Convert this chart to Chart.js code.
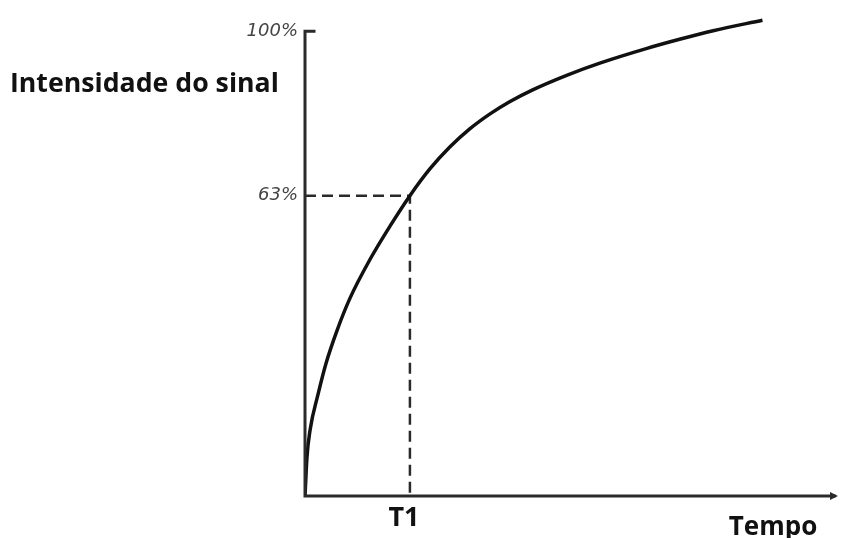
<!DOCTYPE html>
<html>
<head>
<meta charset="utf-8">
<script src="https://cdn.jsdelivr.net/npm/chart.js@4/dist/chart.umd.min.js"></script>
<style>
  body { margin: 0; background: #fff; }
  #wrap { width: 842px; height: 538px; }
</style>
</head>
<body>
<div id="wrap"><canvas id="curve-chart" width="842" height="538"></canvas></div>
<script>
// data (time in units of T1, signal in %)
const tempo = [0, 0.019, 0.048, 0.124, 0.20, 0.305, 0.429, 0.619, 0.81, 1.0, 1.19, 1.38, 1.57, 1.76, 1.95, 2.17, 2.50, 2.81, 3.26, 3.57, 3.89, 4.36];
const sinal = [0, 8.2, 13.8, 21.3, 27.8, 34.7, 41.5, 49.6, 56.6, 63.0, 68.6, 73.2, 77.0, 80.1, 82.7, 85.2, 88.3, 90.8, 93.9, 95.8, 97.6, 99.8];

const t1 = 1;
const nivelT1 = 63;

const xTickValues = [1];
const xTickLabels = ['T1'];
const yTickValues = [63, 97.5];
const yTickLabels = ['63%', '100%'];

const yTitle = 'Intensidade do sinal';
const xTitle = 'Tempo';

const xMax = 5.08;
const yMax = 100.3;

// axes drawn by hand: y axis stops at the 100% tick, x axis ends in an arrow
const axesPlugin = {
    id: 'axesPlugin',
    afterDatasetsDraw(chart) {
        const c = chart.ctx;
        const xs = chart.scales.x;
        const ys = chart.scales.y;
        const x0 = xs.getPixelForValue(0);
        const y0 = ys.getPixelForValue(0);
        const yTop = ys.getPixelForValue(yTickValues[yTickValues.length - 1]);
        const xEnd = chart.chartArea.right;

        c.save();
        c.strokeStyle = '#2a2a2a';
        c.lineWidth = 3;
        c.lineCap = 'square';
        c.beginPath();
        c.moveTo(x0 + 9, yTop);
        c.lineTo(x0, yTop);
        c.lineTo(x0, y0);
        c.lineTo(xEnd - 4, y0);
        c.stroke();

        c.fillStyle = '#2a2a2a';
        c.beginPath();
        c.moveTo(xEnd, y0);
        c.lineTo(xEnd - 8, y0 - 4);
        c.lineTo(xEnd - 8, y0 + 4);
        c.closePath();
        c.fill();

        c.fillStyle = '#111';
        c.font = 'bold 26.7px "Open Sans"';
        c.textBaseline = 'alphabetic';
        c.textAlign = 'left';
        c.fillText(yTitle, 10, 92);

        c.font = 'bold 26px "Open Sans"';
        c.textAlign = 'center';
        c.fillText(xTitle, 773, 535);
        c.restore();
    }
};

const ctx = document.getElementById('curve-chart');

const config = {
    type: 'line',
    data: {
        datasets: [{
            label: 'sinal',
            data: tempo.map((t, i) => ({ x: t, y: sinal[i] })),
            borderColor: '#111',
            borderWidth: 3.5,
            pointRadius: 0,
            cubicInterpolationMode: 'monotone',
            fill: false
        }, {
            label: 'T1',
            data: [{ x: 0, y: nivelT1 }, { x: t1, y: nivelT1 }, { x: t1, y: 0 }],
            borderColor: '#2a2a2a',
            borderWidth: 2.5,
            borderDash: [11, 6],
            pointRadius: 0,
            tension: 0,
            fill: false
        }]
    },
    options: {
        responsive: false,
        devicePixelRatio: 1,
        animation: false,
        layout: { padding: { left: 0, top: 3, right: 4, bottom: 0 } },
        plugins: {
            legend: { display: false },
            tooltip: { enabled: false }
        },
        scales: {
            x: {
                type: 'linear',
                min: 0,
                max: xMax,
                grid: { display: false, drawTicks: false },
                border: { display: false },
                afterBuildTicks: (s) => { s.ticks = xTickValues.map(v => ({ value: v })); },
                afterFit: (s) => { s.height = 42; },
                ticks: {
                    padding: 6,
                    labelOffset: -6,
                    color: '#111',
                    font: { family: 'Open Sans', weight: 'bold', size: 27 },
                    callback: (v) => xTickLabels[xTickValues.indexOf(v)]
                }
            },
            y: {
                type: 'linear',
                min: 0,
                max: yMax,
                grid: { display: false, drawTicks: false },
                border: { display: false },
                afterBuildTicks: (s) => { s.ticks = yTickValues.map(v => ({ value: v })); },
                afterFit: (s) => { s.width = 305; },
                ticks: {
                    padding: 7,
                    color: '#444',
                    font: { family: 'DejaVu Sans', weight: 200, style: 'italic', size: 18 },
                    callback: (v) => yTickLabels[yTickValues.indexOf(v)]
                }
            }
        }
    },
    plugins: [axesPlugin]
};

new Chart(ctx, config);
</script>
</body>
</html>
